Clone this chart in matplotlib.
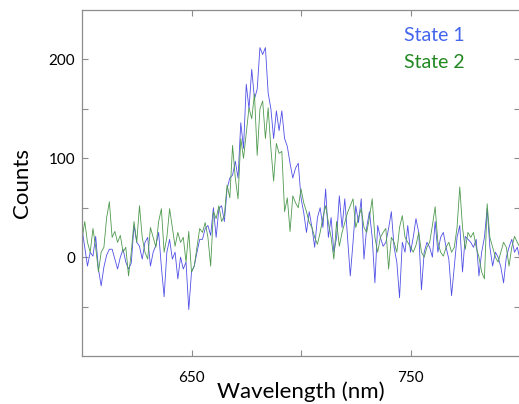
import matplotlib
matplotlib.use("Agg")
import matplotlib.pyplot as plt
import numpy as np

plt.rcParams['font.family'] = ['Lato', 'DejaVu Sans']

# wavelength grid (nm), 1.25 nm steps from 600 to 800
wavelength = np.linspace(600, 800, 161)

state1 = [
    29, 10, -9, 5, 1, 21, -12, -29, -10, 2,
    8, 8, -2, -12, 0, 8, -5, -12, -6, 32,
    15, 11, -2, 15, 20, -9, 5, 12, 25, -10,
    -40, 5, 18, -2, 5, -22, 0, -12, -5, -53,
    -15, -9, 5, 18, 18, 29, 32, 22, 50, 20,
    49, 52, 36, 69, 80, 83, 97, 80, 136, 110,
    175, 150, 190, 160, 170, 212, 205, 212, 166, 150,
    120, 148, 128, 148, 120, 112, 95, 80, 90, 95,
    60, 45, 25, 46, 30, 10, 40, 50, 30, 69,
    20, 40, 5, 20, 62, 30, 59, 20, -19, 15,
    52, 35, 59, -2, 30, 46, 20, -26, 32, 20,
    11, 15, 29, 46, 10, -5, -41, 15, 5, 32,
    5, 20, 39, 25, -33, 5, 15, 10, 0, 36,
    5, 20, 25, 10, -2, -39, -10, 20, 32, -15,
    21, 18, 15, 10, 18, -19, 5, 20, 49, 10,
    -9, 5, 0, -10, -26, 0, 10, 18, 5, 10,
    -2,
]

state2 = [
    18, 36, 15, 5, 29, 10, -15, 5, 10, 40,
    56, 20, 26, 15, 22, 5, 10, -19, 5, 36,
    15, 52, 20, 5, -2, 30, 20, 10, 36, 49,
    5, 20, 49, 30, 11, 25, 15, 20, -5, 26,
    -15, -9, 10, 29, 25, 35, 20, -9, 46, 39,
    52, 36, 42, 73, 60, 113, 80, 59, 120, 100,
    125, 151, 140, 165, 103, 150, 158, 120, 151, 110,
    77, 115, 105, 107, 46, 60, 26, 62, 55, 50,
    69, 55, 46, 35, 30, 20, 13, 25, 40, 52,
    35, 20, -2, 36, 11, 25, 35, 45, 52, 59,
    30, 40, 49, 30, 25, 40, 59, 20, 5, 20,
    25, 29, -12, 20, 15, 5, 30, 42, 20, 15,
    10, 5, 12, 25, 5, 0, 10, 15, 32, 51,
    15, 5, 1, 10, 15, 5, 10, 30, 71, 30,
    8, 25, 20, 25, 10, 0, -15, -22, 54, 20,
    10, 0, -5, 5, 15, 10, -9, 10, 21, 15,
    10,
]

x_ticks = [650, 700, 750]
x_labels = ['650', '', '750']
y_ticks = [-50, 0, 50, 100, 150, 200]
y_labels = ['', '0', '', '100', '', '200']

fig = plt.figure(figsize=(5.19, 4.04), dpi=100)
ax = fig.add_axes([82/519, 48/404, 438/519, 346/404])

ax.plot(wavelength, state1, color='#5050e6', lw=0.6)
ax.plot(wavelength, state2, color='#4f9a4f', lw=0.6)

ax.set_xlim(600, 800)
ax.set_ylim(-100, 250)
ax.set_xticks(x_ticks)
ax.set_xticklabels(x_labels)
ax.set_yticks(y_ticks)
ax.set_yticklabels(y_labels)

for s in ax.spines.values():
    s.set_color('#8c8c8c')
    s.set_linewidth(0.9)
ax.tick_params(axis='both', direction='in', length=4, width=0.8, color='#8c8c8c',
               labelsize=11, top=True, right=True)
ax.tick_params(axis='x', pad=11)
ax.tick_params(axis='y', pad=5)

ax.set_xlabel('Wavelength (nm)', fontsize=16, labelpad=-3)
ax.set_ylabel('Counts', fontsize=16, labelpad=12)

ax.text(0.735, 0.925, 'State 1', transform=ax.transAxes, color='#4466ee',
        fontsize=14, va='center', ha='left')
ax.text(0.735, 0.847, 'State 2', transform=ax.transAxes, color='#228822',
        fontsize=14, va='center', ha='left')

fig.savefig('out.png', dpi=100)
